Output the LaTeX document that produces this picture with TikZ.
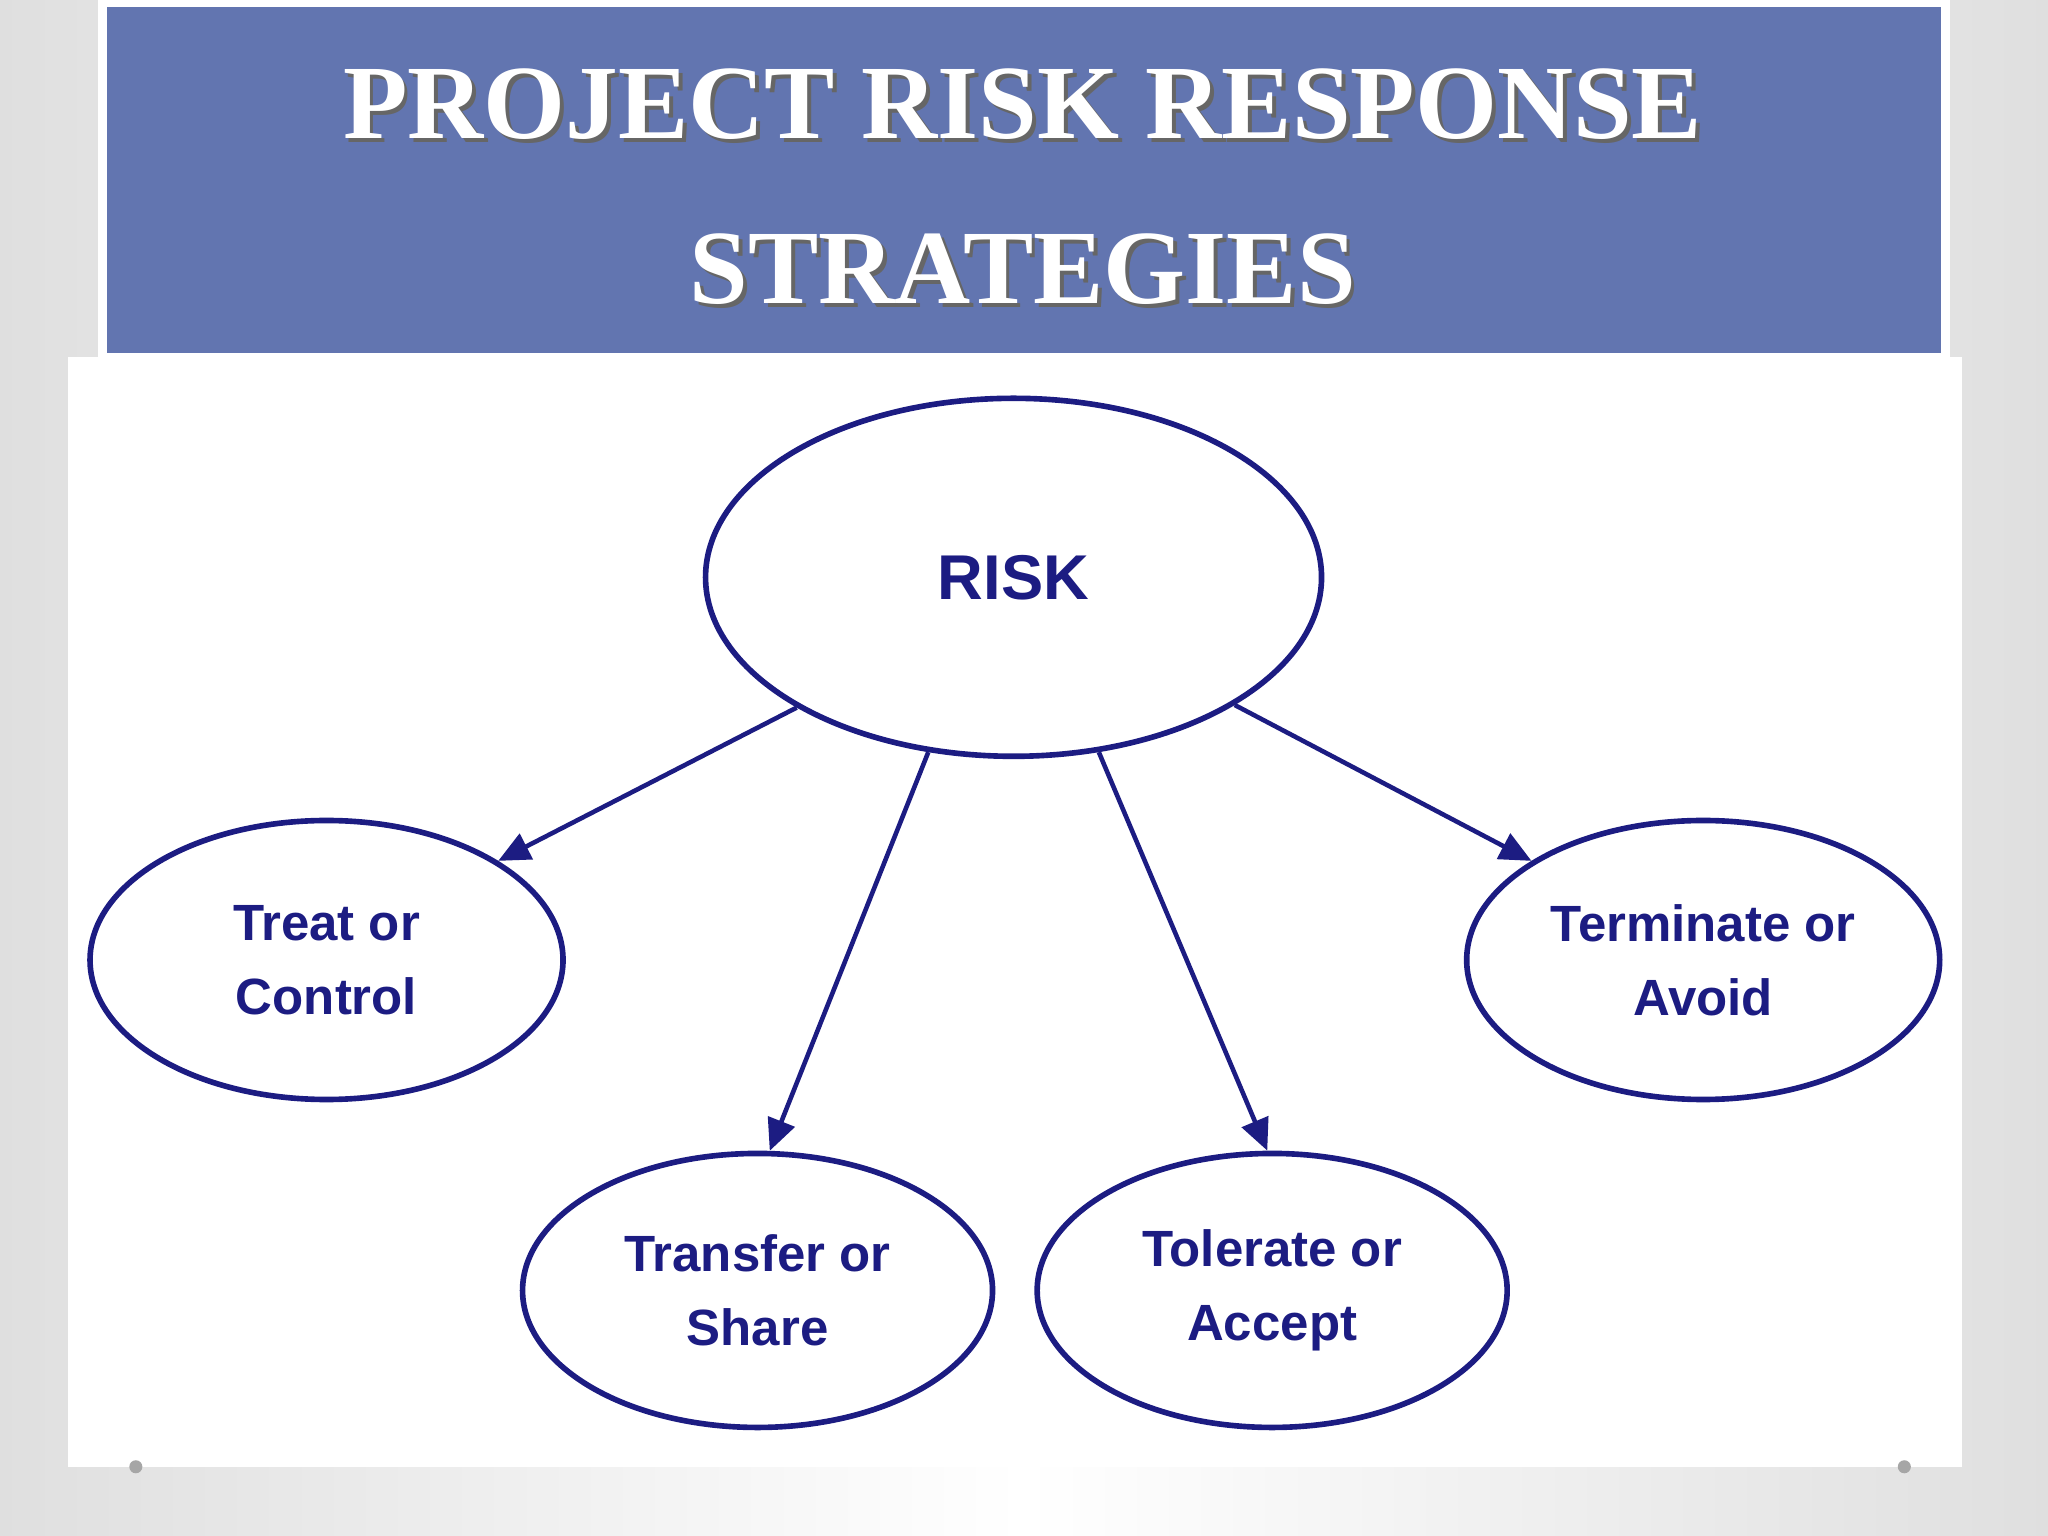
\documentclass[tikz,border=0pt]{standalone}
\usepackage{fontspec}
\setmainfont{Liberation Serif}
\newfontfamily\nodefont{Liberation Sans}
\usetikzlibrary{shapes.geometric,arrows.meta}
\definecolor{navy}{HTML}{1C1C82}
\definecolor{band}{HTML}{6275B0}
\tikzset{
  bubble/.style={ellipse,draw=navy,line width=1.6pt,inner sep=0pt,align=center,
    font=\nodefont\bfseries\fontsize{14.5}{21}\selectfont,text=navy},
  link/.style={draw=navy,line width=1.3pt,-{Triangle[length=9pt,width=8pt]}}
}
\begin{document}
\begin{tikzpicture}[x=0.013061cm,y=-0.013061cm]
\useasboundingbox (0,0) rectangle (1568,1176);
\shade[left color=gray!25,right color=gray!25,middle color=white] (0,0) rectangle (1568,1176);
\fill[white] (75,0) rectangle (1493,276);
\fill[band] (82,5) rectangle (1486,270);
\fill[white] (52,273) rectangle (1502,1123);
\fill[gray!70] (104,1123) circle (5);
\fill[gray!70] (1458,1123) circle (5);
\node[font=\bfseries\fontsize{30}{47}\selectfont,text=black!60,align=center] (ts) at (786,146) {PROJECT RISK RESPONSE\\STRATEGIES};
\node[font=\bfseries\fontsize{30}{47}\selectfont,text=white,align=center] (title) at (783,143) {PROJECT RISK RESPONSE\\STRATEGIES};
\node[bubble,minimum width=6.16cm,minimum height=3.58cm,font=\nodefont\bfseries\fontsize{18}{22}\selectfont] (risk) at (776,442) {RISK};
\node[bubble,minimum width=4.73cm,minimum height=2.79cm] (treat) at (250,735) {Treat or\\Control};
\node[bubble,minimum width=4.73cm,minimum height=2.79cm] (term) at (1304,735) {Terminate or\\Avoid};
\node[bubble,minimum width=4.70cm,minimum height=2.74cm] (trans) at (580,988) {Transfer or\\Share};
\node[bubble,minimum width=4.70cm,minimum height=2.74cm] (tol) at (974,988) {Tolerate or\\Accept};
\draw[link] (risk.211) -- (treat.30);
\draw[link] (risk.244) -- (trans.85);
\draw[link] (risk.296) -- (tol.92);
\draw[link] (risk.330) -- (term.150);
\end{tikzpicture}
\end{document}
